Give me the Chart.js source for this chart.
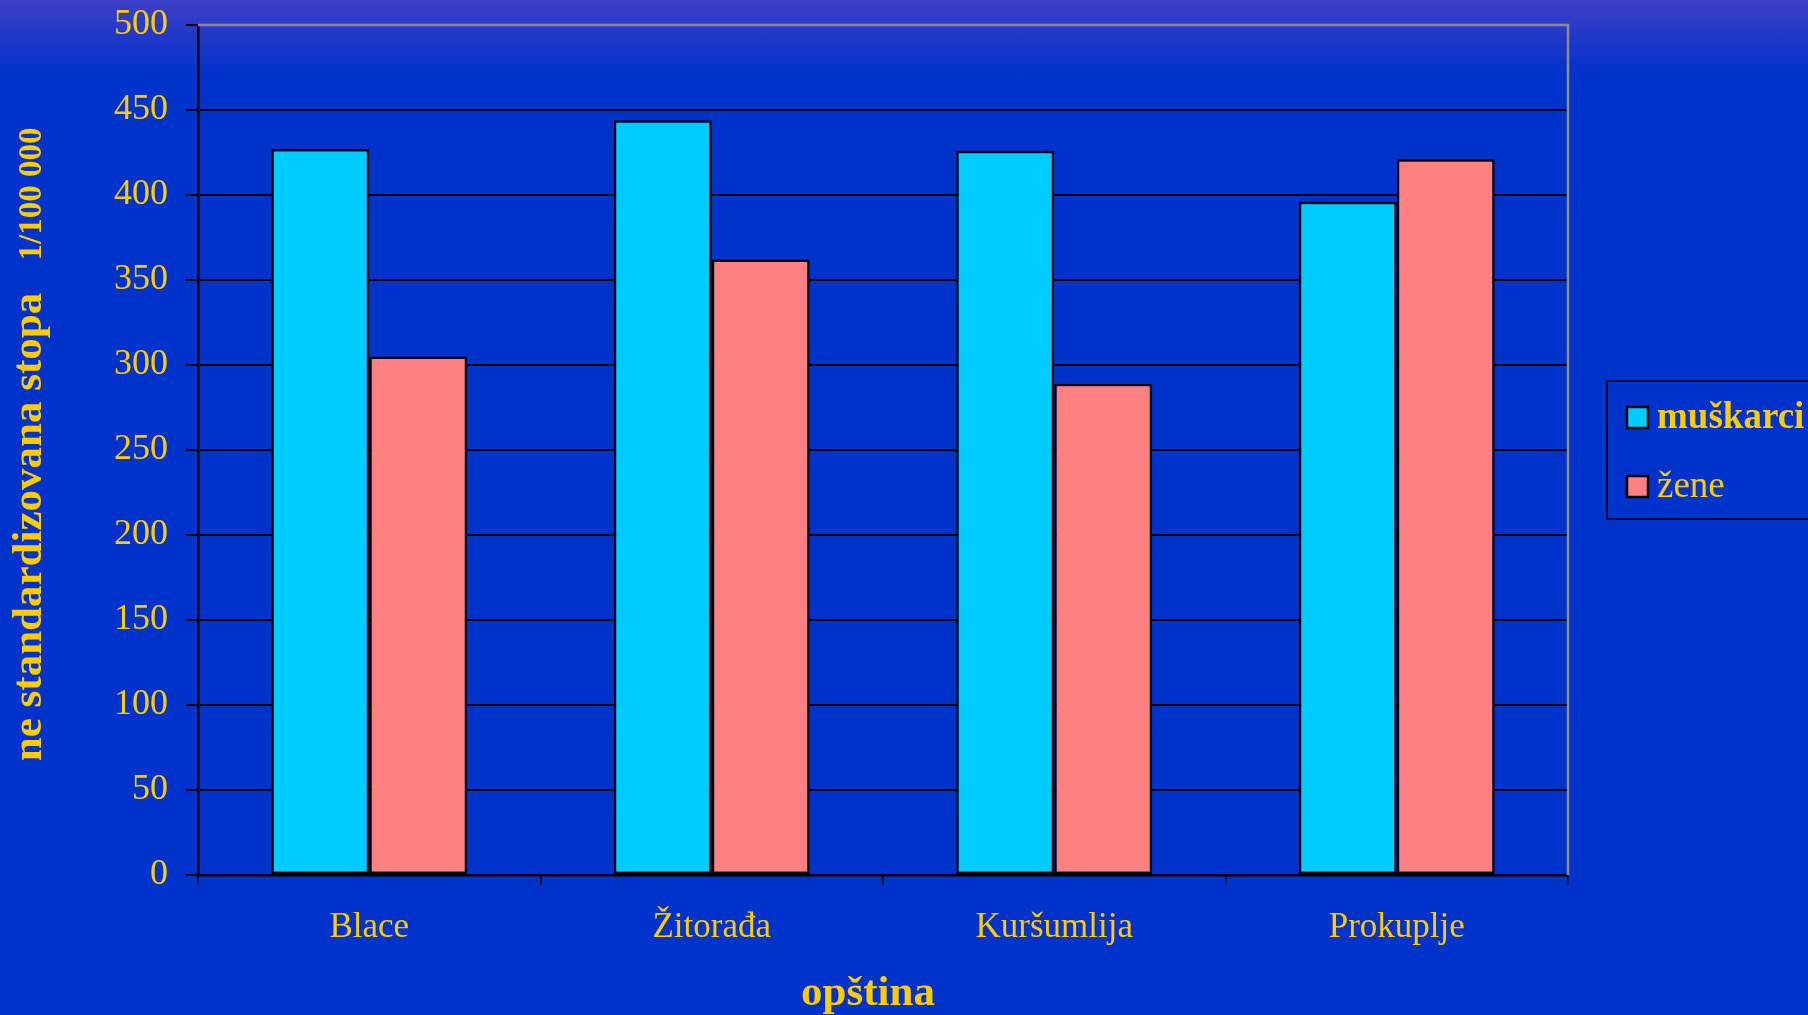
<!DOCTYPE html>
<html>
<head>
<meta charset="utf-8">
<script src="https://cdn.jsdelivr.net/npm/chart.js@4.4.1/dist/chart.umd.min.js"></script>
<style>
html, body { margin: 0; padding: 0; }
body {
    width: 1808px; height: 1015px; overflow: hidden;
    background: linear-gradient(to bottom, #3d3fc6 0px, #2238c9 35px, #0033cc 75px, #0033cc 100%);
}
</style>
</head>
<body>
<canvas id="chart" width="1808" height="1015"></canvas>
<script>
// values (rate per 100 000)
const categories = ["Blace", "Žitorađa", "Kuršumlija", "Prokuplje"];
const muskarci = [427, 444, 426, 396];
const zene = [305, 362, 289, 421];
const seriesNames = ["muškarci", "žene"];

const yTitle = "ne standardizovana stopa";
const yUnit = "1/100 000";
const xTitle = "opština";

const yellow = "#ffcc00";
const serif = "'Liberation Serif', 'Times New Roman', serif";

// titles, frame and legend box
const decor = {
    id: "decor",
    afterDraw(chart) {
        const ctx = chart.ctx;
        const a = chart.chartArea;
        ctx.save();

        // grey frame on top and right
        ctx.strokeStyle = "#8c8c8c";
        ctx.lineWidth = 2.5;
        ctx.beginPath();
        ctx.moveTo(a.left, a.top);
        ctx.lineTo(a.right, a.top);
        ctx.lineTo(a.right, a.bottom);
        ctx.stroke();

        ctx.fillStyle = yellow;

        // x title
        ctx.font = "bold 43px " + serif;
        ctx.textAlign = "center";
        ctx.textBaseline = "middle";
        ctx.fillText(xTitle, 868, 994);

        // y title, rotated
        ctx.save();
        ctx.translate(30, 0);
        ctx.rotate(-Math.PI / 2);
        ctx.font = "bold 43px " + serif;
        ctx.fillText(yTitle, -527, 0);
        ctx.font = "bold 33px " + serif;
        ctx.fillText(yUnit, -194, 2);
        ctx.restore();

        // legend
        ctx.strokeStyle = "#000";
        ctx.lineWidth = 1.5;
        ctx.strokeRect(1607, 381, 260, 138);

        const rows = [417, 486];
        const fonts = ["bold 37px " + serif, "37px " + serif];
        chart.data.datasets.forEach((ds, i) => {
            const y = rows[i];
            ctx.fillStyle = ds.backgroundColor;
            ctx.fillRect(1627, y - 10, 21, 21);
            ctx.strokeStyle = "#000";
            ctx.lineWidth = 2.5;
            ctx.strokeRect(1627, y - 10, 21, 21);
            ctx.fillStyle = yellow;
            ctx.font = fonts[i];
            ctx.textAlign = "left";
            ctx.textBaseline = "middle";
            ctx.fillText(ds.label, 1657, y + 1);
        });

        ctx.restore();
    }
};

new Chart(document.getElementById("chart"), {
    type: "bar",
    data: {
        labels: categories,
        datasets: [{
            label: seriesNames[0],
            data: muskarci,
            backgroundColor: "#00ccff",
            borderColor: "#000",
            borderWidth: 2.5,
            borderSkipped: false,
            barPercentage: 1,
            categoryPercentage: 0.572
        }, {
            label: seriesNames[1],
            data: zene,
            backgroundColor: "#ff8080",
            borderColor: "#000",
            borderWidth: 2.5,
            borderSkipped: false,
            barPercentage: 1,
            categoryPercentage: 0.572
        }]
    },
    options: {
        responsive: false,
        animation: false,
        devicePixelRatio: 1,
        layout: {
            padding: { left: 0, right: 240, top: 25, bottom: 0 }
        },
        plugins: {
            legend: { display: false },
            tooltip: { enabled: false }
        },
        scales: {
            x: {
                afterFit: s => { s.height = 140; s.paddingLeft = 0; s.paddingRight = 0; },
                grid: {
                    drawOnChartArea: false,
                    color: "#000",
                    lineWidth: 1.5,
                    tickLength: 10
                },
                border: { color: "#000", width: 2.5 },
                ticks: {
                    color: yellow,
                    padding: 22,
                    font: { family: serif, size: 35 }
                }
            },
            y: {
                min: 0,
                max: 500,
                afterFit: s => { s.width = 198; s.paddingTop = 0; s.paddingBottom = 0; },
                grid: {
                    color: "#000",
                    lineWidth: 2,
                    tickLength: 12
                },
                border: { color: "#000", width: 2.5 },
                ticks: {
                    stepSize: 50,
                    color: yellow,
                    padding: 18,
                    font: { family: serif, size: 36 }
                }
            }
        }
    },
    plugins: [decor]
});
</script>
</body>
</html>
